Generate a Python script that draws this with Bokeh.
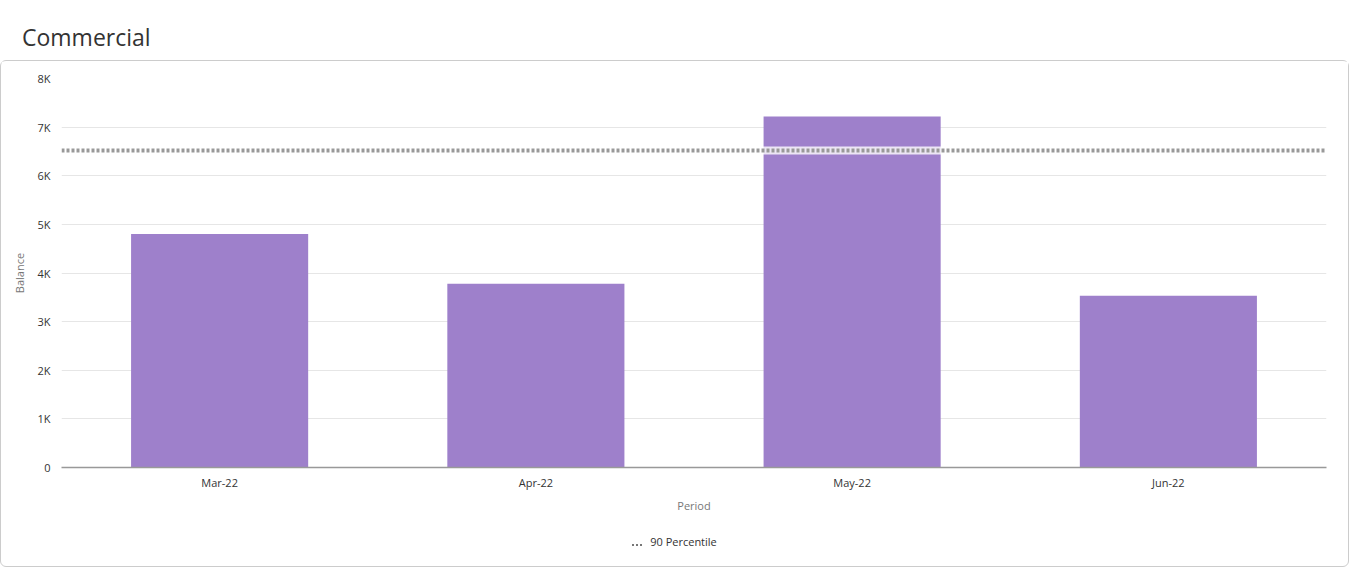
from bokeh.plotting import figure
from bokeh.models import FactorRange, FixedTicker, Div, Range1d, Span, ColumnDataSource
from bokeh.layouts import column
from bokeh.embed import file_html
from bokeh.resources import INLINE

# Data
periods = ["Mar-22", "Apr-22", "May-22", "Jun-22"]
balances = [4800, 3780, 7220, 3530]
percentile_90 = 6520
percentile_label = "90 Percentile"
y_ticks = [0, 1000, 2000, 3000, 4000, 5000, 6000, 7000, 8000]
y_tick_labels = ["0", "1K", "2K", "3K", "4K", "5K", "6K", "7K", "8K"]

FONT = "Open Sans"

title = Div(text="Commercial", width=1349, height=60, margin=0,
            styles={"font-family": FONT, "font-size": "23px", "color": "#333333",
                    "padding-left": "22px", "padding-top": "21px"})

p = figure(x_range=FactorRange(*periods, range_padding=0), y_range=Range1d(0, 8000),
           width=1347, height=465, output_backend="svg", toolbar_location=None,
           min_border_left=60, min_border_right=22, min_border_top=17, min_border_bottom=59)
p.outline_line_color = None

src = ColumnDataSource(dict(period=periods, balance=balances))
p.vbar(x="period", top="balance", width=0.56, source=src, color="#9e80cb", line_color=None)

halo = Span(location=percentile_90, dimension="width", line_color="white", line_width=8, line_alpha=0.8)
p.add_layout(halo)
dots = Span(location=percentile_90, dimension="width", line_color="#999999", line_width=4, line_dash="3 2")
p.add_layout(dots)

p.yaxis.ticker = FixedTicker(ticks=y_ticks)
p.yaxis.major_label_overrides = {t: l for t, l in zip(y_ticks, y_tick_labels)}
p.yaxis.axis_line_color = None
p.yaxis.major_tick_line_color = None
p.yaxis.minor_tick_line_color = None
p.yaxis.axis_label = "Balance"
p.xaxis.axis_label = "Period"
for ax in (p.xaxis, p.yaxis):
    ax.major_label_text_font = FONT
    ax.major_label_text_font_size = "11px"
    ax.major_label_text_color = "#333333"
    ax.axis_label_text_font = FONT
    ax.axis_label_text_font_size = "11px"
    ax.axis_label_text_color = "#777777"
    ax.axis_label_text_font_style = "normal"
    ax.major_tick_out = 0
    ax.minor_tick_out = 0
p.xaxis.axis_line_color = "#999999"
p.xaxis.axis_line_width = 1.5
p.xaxis.major_tick_line_color = None
p.xaxis.minor_tick_line_color = None
p.xaxis.major_label_standoff = 7
p.xaxis.axis_label_standoff = 5
p.yaxis.major_label_standoff = 11
p.yaxis.axis_label_standoff = 7
p.xgrid.grid_line_color = None
p.ygrid.grid_line_color = "#e6e6e6"

legend_div = Div(
    text=('<span style="display:inline-block;width:10px;border-top:2px dotted #777777;'
          'vertical-align:middle;margin-right:8px;margin-top:4px"></span>' + percentile_label),
    width=1347, height=40, margin=0,
    styles={"font-family": FONT, "font-size": "11px", "color": "#333333",
            "text-align": "center", "line-height": "16px", "padding-top": "8px"})

card = column(p, legend_div, margin=0, spacing=0,
              styles={"border": "1px solid #cccccc", "border-radius": "6px"})
layout = column(title, card, spacing=0, margin=0)
open("out.html", "w").write(file_html(layout, INLINE))
